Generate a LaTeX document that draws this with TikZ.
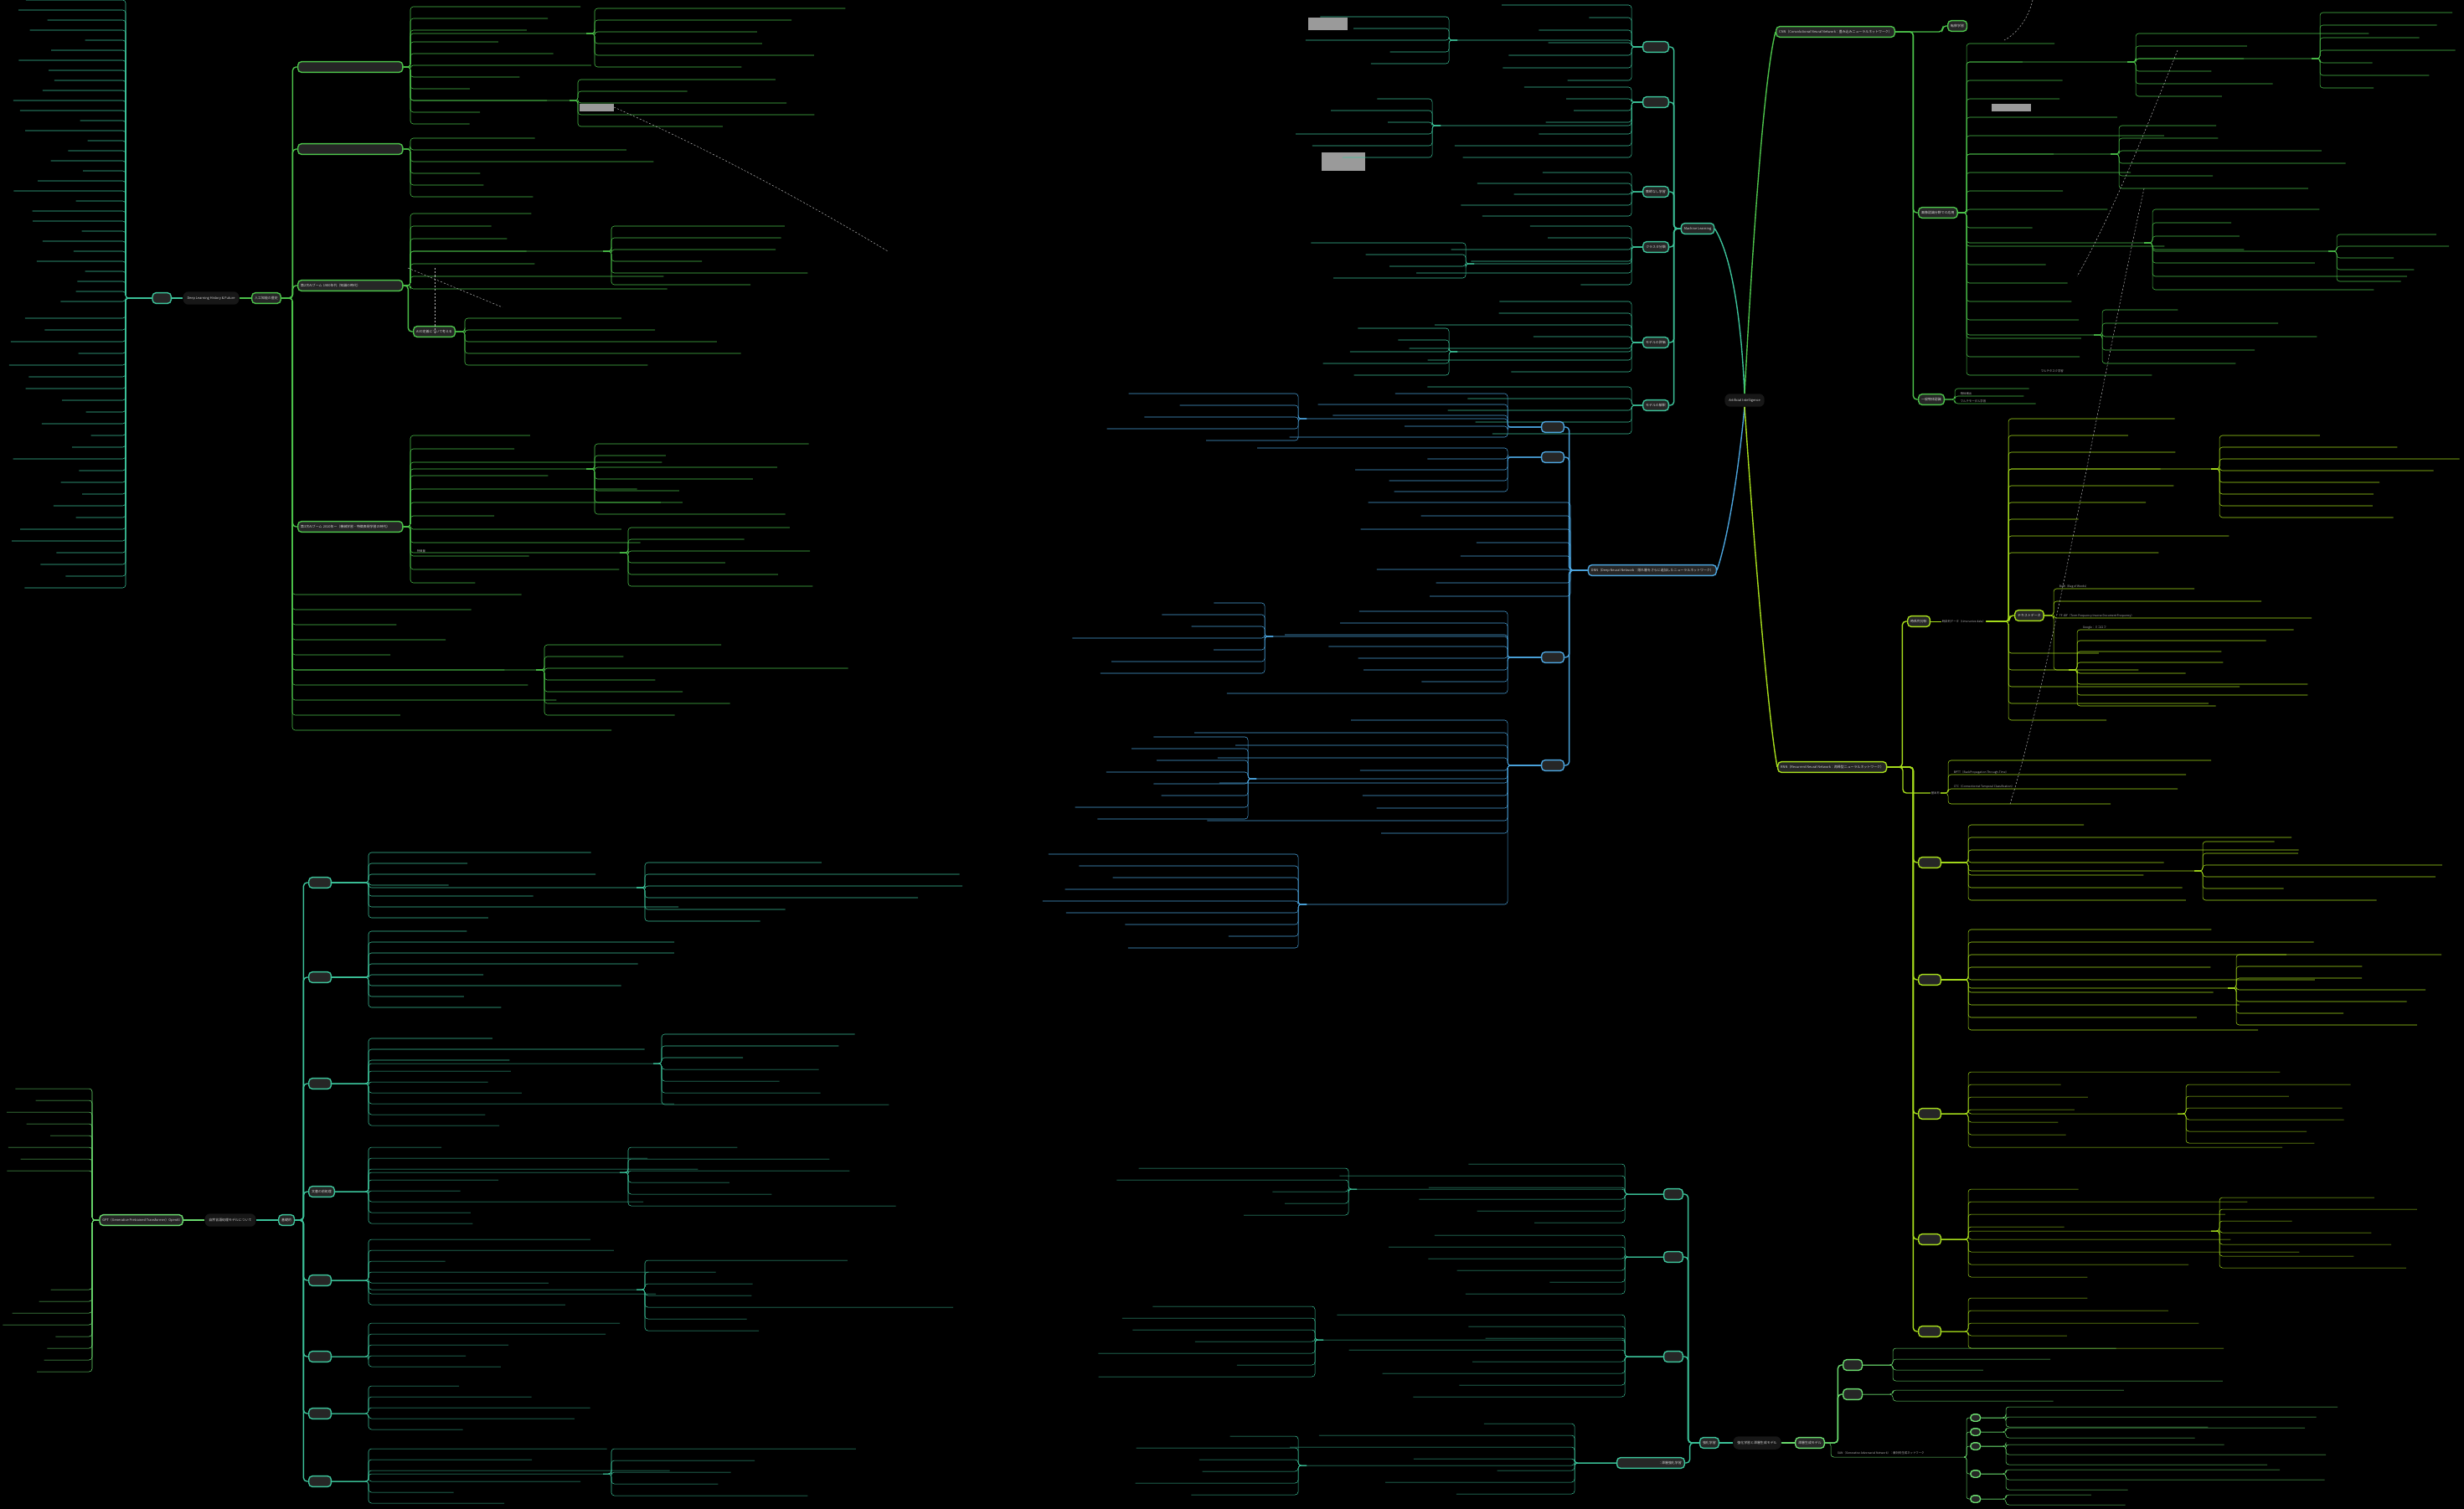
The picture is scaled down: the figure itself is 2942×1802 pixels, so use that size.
\documentclass[tikz,border=0pt]{standalone}
\usepackage{fontspec}
\setmainfont{Noto Sans CJK JP}
\definecolor{cTeal}{HTML}{3CC39A}
\definecolor{cGreen}{HTML}{4CC24A}
\definecolor{cLGreen}{HTML}{6ADB6E}
\definecolor{cBlue}{HTML}{4BA3DC}
\definecolor{cLime}{HTML}{A6DD1C}
\definecolor{cBox}{HTML}{262626}
\definecolor{cRoot}{HTML}{171717}
\definecolor{cText}{HTML}{D8D8D8}
\definecolor{cLeaf}{HTML}{B8B8B8}
\definecolor{cShot}{HTML}{9A9A9A}
\tikzset{
  hub/.style={draw=#1, fill=cBox, rounded corners=6pt, line width=2pt, text=cText,
    font=\fontsize{5.6}{6.6}\selectfont, inner xsep=5pt, inner ysep=3pt, minimum height=18pt},
  rootnode/.style={fill=cRoot, rounded corners=9pt, text=cText,
    font=\fontsize{5.6}{6.6}\selectfont, inner xsep=7pt, minimum height=22pt},
  br/.style={draw=#1, line width=2pt},
  lf/.style={draw=#1, line width=0.75pt},
  ltxt/.style={text=cLeaf, font=\fontsize{4.8}{5.8}\selectfont, inner sep=1pt, anchor=south west},
  xlink/.style={draw=cLeaf, dashed, line width=0.7pt},
}
\newcommand\lvs[9]{%
  \foreach \lvi in {1,...,#5}{%
    \pgfmathsetmacro\lvy{#3+(\lvi-1)*(#4)}%
    \pgfmathsetmacro\lvl{#6*(#8+(#9)*rnd)}%
    \draw[lf=#7,rounded corners=5pt] (#1) -| (#2,\lvy) -- ++(\lvl,0);
  }}
\newcommand\hubL[3]{\draw[br=#1,rounded corners=6pt] (#2) -| ([xshift=-8pt]#3.west) -- (#3.west);}
\newcommand\hubR[3]{\draw[br=#1,rounded corners=6pt] (#2) -| ([xshift=8pt]#3.east) -- (#3.east);}
\newcommand\ext[6]{\coordinate (#4) at (#5,#6);\draw[lf=#1,rounded corners=5pt] (#2) -| (#3,#6) -- (#4);}
\begin{document}
\begin{tikzpicture}[x=0.05cm,y=-0.05cm]
\pgfmathsetseed{31}
\fill[black] (0,0) rectangle (2942,1802);
\useasboundingbox (0,0) rectangle (2942,1802);
\fill[cShot] (1562,21) rectangle (1609,36);
\fill[cShot] (1578,182) rectangle (1630,204);
\fill[cShot] (692,124) rectangle (733,133);
\fill[cShot] (2378,124) rectangle (2425,133);

%================ Artificial Intelligence ================
\node[rootnode] (ai) at (2083,478) {Artificial Intelligence};
\node[hub=cTeal] (ml) at (2027,273) {Machine Learning};
\node[hub=cGreen,anchor=west] (cnn) at (2120,38) {CNN（Convolutional Neural Network：畳み込みニューラルネットワーク）};
\node[hub=cBlue,anchor=east] (dnn) at (2050,681) {DNN（Deep Neural Network：隠れ層をさらに追加したニューラルネットワーク）};
\node[hub=cLime,anchor=west] (rnn) at (2122,916) {RNN（Recurrent Neural Network：再帰型ニューラルネットワーク）};
\draw[br=cTeal] (ai.north) .. controls (2078,360) and (2064,300) .. (ml.east);
\draw[br=cGreen] (ai.north) .. controls (2092,300) and (2106,90) .. (cnn.west);
\draw[br=cBlue] (ai.south) .. controls (2076,560) and (2064,640) .. (dnn.east);
\draw[br=cLime] (ai.south) .. controls (2092,620) and (2110,850) .. (rnn.west);

\foreach \nn/\yy/\tt in {mc1/56/{\phantom{教師あり学習}},mc2/122/{\phantom{教師あり学習}},mc3/229/教師なし学習,mc4/295/クラスタ分類,mc5/409/モデルの評価,mc6/484/モデルの解釈}{
  \node[hub=cTeal,anchor=east] (\nn) at (1993,\yy) {\tt};
  \hubR{cTeal}{ml.west}{\nn}
}
\lvs{mc1.west}{1948}{6}{15}{7}{-1}{cTeal}{50}{180}
\lvs{mc2.west}{1948}{104}{14}{7}{-1}{cTeal}{50}{200}
\lvs{mc3.west}{1948}{206}{13}{5}{-1}{cTeal}{50}{180}
\lvs{mc4.west}{1948}{270}{14}{6}{-1}{cTeal}{60}{220}
\lvs{mc5.west}{1948}{360}{14}{7}{-1}{cTeal}{60}{220}
\lvs{mc6.west}{1948}{462}{14}{5}{-1}{cTeal}{60}{200}
\ext{cTeal}{mc1.west}{1948}{mk1}{1740}{48}
\lvs{mk1}{1730}{20}{14}{5}{-1}{cTeal}{50}{140}
\ext{cTeal}{mc2.west}{1948}{mk2}{1720}{150}
\lvs{mk2}{1710}{118}{14}{6}{-1}{cTeal}{50}{130}
\ext{cTeal}{mc4.west}{1948}{mk3}{1760}{315}
\lvs{mk3}{1750}{290}{14}{4}{-1}{cTeal}{50}{150}
\ext{cTeal}{mc5.west}{1948}{mk4}{1740}{420}
\lvs{mk4}{1730}{392}{14}{5}{-1}{cTeal}{50}{150}

\node[hub=cGreen,anchor=west] (tenni) at (2325,31) {転移学習};
\node[hub=cGreen,anchor=west] (gazo) at (2290,254) {画像認識分野での応用};
\node[hub=cGreen,anchor=west] (ippan) at (2290,477) {一般物体認識};
\hubL{cGreen}{cnn.east}{tenni}
\hubL{cGreen}{cnn.east}{gazo}
\hubL{cGreen}{cnn.east}{ippan}
\lvs{gazo.east}{2348}{52}{22}{19}{1}{cGreen}{60}{180}
\ext{cGreen}{gazo.east}{2348}{gk1}{2540}{74}
\lvs{gk1}{2550}{40}{15}{6}{1}{cGreen}{80}{220}
\ext{cGreen}{gazo.east}{2348}{gk2}{2520}{184}
\lvs{gk2}{2530}{150}{15}{6}{1}{cGreen}{80}{240}
\ext{cGreen}{gazo.east}{2348}{gk3}{2560}{290}
\lvs{gk3}{2570}{250}{16}{7}{1}{cGreen}{80}{260}
\ext{cGreen}{gazo.east}{2348}{gk4}{2500}{400}
\lvs{gk4}{2510}{370}{16}{5}{1}{cGreen}{80}{250}
\ext{cGreen}{gk1}{2550}{gk6}{2760}{70}
\lvs{gk6}{2770}{15}{15}{7}{1}{cGreen}{60}{110}
\ext{cGreen}{gk3}{2570}{gk5}{2780}{300}
\lvs{gk5}{2790}{280}{14}{5}{1}{cGreen}{60}{100}
\lvs{ippan.east}{2334}{464}{9}{3}{1}{cGreen}{70}{40}
\node[ltxt] at (2340,473) {物体検出};
\node[ltxt] at (2340,482) {マルチモーダル学習};
\node[ltxt] at (2436,446) {マルチタスク学習};

\foreach \nn/\yy in {d1/510,d2/546,d3/785,d4/914}{
  \node[hub=cBlue,anchor=east] (\nn) at (1868,\yy) {\phantom{ニューラル}};
  \hubR{cBlue}{dnn.west}{\nn}
}
\lvs{dnn.west}{1875}{600}{16}{8}{-1}{cBlue}{80}{250}
\lvs{d1.west}{1800}{470}{13}{5}{-1}{cBlue}{80}{250}
\lvs{d2.west}{1800}{535}{13}{5}{-1}{cBlue}{80}{250}
\lvs{d3.west}{1800}{730}{14}{8}{-1}{cBlue}{80}{280}
\lvs{d4.west}{1800}{860}{15}{10}{-1}{cBlue}{80}{300}
\ext{cBlue}{d1.west}{1800}{dk1}{1560}{500}
\lvs{dk1}{1550}{470}{14}{5}{-1}{cBlue}{60}{200}
\ext{cBlue}{d3.west}{1800}{dk2}{1520}{760}
\lvs{dk2}{1510}{720}{14}{7}{-1}{cBlue}{60}{180}
\ext{cBlue}{d4.west}{1800}{dk3}{1500}{930}
\lvs{dk3}{1490}{880}{14}{8}{-1}{cBlue}{60}{180}
\ext{cBlue}{d4.west}{1800}{dk4}{1560}{1080}
\lvs{dk4}{1550}{1020}{14}{9}{-1}{cBlue}{80}{230}

\node[hub=cLime,anchor=west] (jikei) at (2277,742) {時系列分析};
\hubL{cLime}{rnn.east}{jikei}
\node[ltxt,anchor=west] (tsd) at (2318,742) {時系列データ（time series data）};
\draw[lf=cLime] (jikei.east) -- (tsd.west);
\node[hub=cLime,anchor=west] (tx) at (2405,735) {テキストデータ};
\hubL{cLime}{tsd.east}{tx}
\lvs{tsd.east}{2398}{500}{20}{9}{1}{cLime}{80}{220}
\lvs{tsd.east}{2398}{780}{20}{5}{1}{cLime}{80}{220}
\draw[lf=cLime,rounded corners=5pt] (tx.east) -| (2452,703) -- (2620,703);
\draw[lf=cLime,rounded corners=5pt] (tx.east) -| (2452,718) -- (2700,718);
\draw[lf=cLime,rounded corners=5pt] (tx.east) -| (2452,738) -- (2760,738);
\node[ltxt] at (2458,703) {BoW（Bag of Words）};
\node[ltxt] at (2458,738) {TF-IDF（Term Frequency Inverse Document Frequency）};
\ext{cLime}{tx.east}{2452}{tk1}{2470}{800}
\lvs{tk1}{2480}{752}{13}{8}{1}{cLime}{80}{200}
\node[ltxt] at (2486,752) {Google：ミコロフ};
\node[ltxt,anchor=west] (kihon) at (2305,947) {基本形};
\draw[br=cLime,rounded corners=6pt] (rnn.east) -| (2272,947) -- (kihon.west);
\draw[lf=cLime,rounded corners=5pt] (kihon.east) -| (2326,908) -- (2640,908);
\draw[lf=cLime,rounded corners=5pt] (kihon.east) -| (2326,925) -- (2610,925);
\draw[lf=cLime,rounded corners=5pt] (kihon.east) -| (2326,942) -- (2600,942);
\draw[lf=cLime,rounded corners=5pt] (kihon.east) -| (2326,960) -- (2520,960);
\node[ltxt] at (2332,925) {BPTT（BackPropagation Through-Time）};
\node[ltxt] at (2332,942) {CTC（Connectionist Temporal Classification）};
\foreach \nn/\yy in {r1/1030,r2/1170,r3/1330,r4/1480,r5/1590}{
  \node[hub=cLime,anchor=west] (\nn) at (2290,\yy) {\phantom{時系列分析}};
  \hubL{cLime}{rnn.east}{\nn}
}
\lvs{r1.east}{2350}{985}{15}{7}{1}{cLime}{100}{300}
\lvs{r2.east}{2350}{1110}{15}{9}{1}{cLime}{100}{320}
\lvs{r3.east}{2350}{1280}{15}{7}{1}{cLime}{100}{300}
\lvs{r4.east}{2350}{1420}{15}{8}{1}{cLime}{100}{320}
\lvs{r5.east}{2350}{1550}{15}{5}{1}{cLime}{100}{250}
\ext{cLime}{r1.east}{2350}{rk1}{2620}{1040}
\lvs{rk1}{2630}{1005}{14}{6}{1}{cLime}{80}{220}
\ext{cLime}{r2.east}{2350}{rk2}{2660}{1180}
\lvs{rk2}{2670}{1140}{14}{7}{1}{cLime}{80}{200}
\ext{cLime}{r3.east}{2350}{rk3}{2600}{1330}
\lvs{rk3}{2610}{1295}{14}{6}{1}{cLime}{80}{250}
\ext{cLime}{r4.east}{2350}{rk4}{2640}{1470}
\lvs{rk4}{2650}{1430}{14}{7}{1}{cLime}{80}{220}
\ext{cLime}{tsd.east}{2398}{rk5}{2640}{560}
\lvs{rk5}{2650}{520}{14}{8}{1}{cLime}{80}{220}

%================ Deep Learning History & Future ================
\node[rootnode] (dlh) at (252,356) {Deep Learning History \& Future};
\node[hub=cTeal,anchor=east] (lbox) at (205,356) {\phantom{ディープ}};
\node[hub=cGreen,anchor=west] (jinko) at (300,356) {人工知能の歴史};
\draw[br=cTeal] (dlh.west) -- (lbox.east);
\draw[br=cGreen] (dlh.east) -- (jinko.west);
\node[hub=cGreen,anchor=west,text width=168pt] (dai1) at (355,80) {\phantom{第1次AIブーム}};
\node[hub=cGreen,anchor=west,text width=168pt] (dx) at (355,178) {\phantom{第1次AIブーム}};
\node[hub=cGreen,anchor=west,text width=168pt] (dai2) at (355,341) {第2次AIブーム 1980年代（知識の時代）};
\node[hub=cGreen,anchor=west,text width=168pt] (dai3) at (355,629) {第3次AIブーム 2010年ー（機械学習・特徴表現学習の時代）};
\foreach \nn in {dai1,dx,dai2,dai3}{\hubL{cGreen}{jinko.east}{\nn}}
\node[hub=cGreen,anchor=west] (aidef) at (493,396) {AIの定義について考える};
\hubL{cGreen}{dai2.east}{aidef}
\lvs{dai1.east}{490}{8}{14}{11}{1}{cGreen}{60}{200}
\ext{cGreen}{dai1.east}{490}{hk1}{700}{40}
\lvs{hk1}{710}{10}{14}{6}{1}{cGreen}{80}{220}
\ext{cGreen}{dai1.east}{490}{hk2}{680}{120}
\lvs{hk2}{690}{95}{14}{5}{1}{cGreen}{80}{250}
\lvs{dx.east}{490}{165}{14}{6}{1}{cGreen}{60}{250}
\lvs{dai2.east}{490}{255}{15}{7}{1}{cGreen}{60}{250}
\ext{cGreen}{dai2.east}{490}{hk3}{720}{300}
\lvs{hk3}{730}{270}{14}{6}{1}{cGreen}{80}{250}
\lvs{aidef.east}{555}{380}{14}{5}{1}{cGreen}{80}{250}
\lvs{dai3.east}{490}{520}{16}{12}{1}{cGreen}{60}{250}
\ext{cGreen}{dai3.east}{490}{hk4}{700}{560}
\lvs{hk4}{710}{530}{14}{7}{1}{cGreen}{80}{280}
\ext{cGreen}{dai3.east}{490}{hk5}{740}{660}
\lvs{hk5}{750}{630}{14}{6}{1}{cGreen}{80}{300}
\lvs{jinko.east}{349}{710}{18}{10}{1}{cGreen}{100}{300}
\ext{cGreen}{jinko.east}{349}{hk6}{640}{800}
\lvs{hk6}{650}{770}{14}{7}{1}{cGreen}{80}{300}
\node[ltxt] at (497,661) {特徴量};
\lvs{lbox.west}{150}{0}{12}{31}{-1}{cTeal}{40}{100}
\lvs{lbox.west}{150}{380}{14}{24}{-1}{cTeal}{40}{100}
\draw[xlink] (733,128) .. controls (850,180) and (960,240) .. (1060,300);
\draw[xlink] (487,320) -- (600,367);
\draw[xlink] (519,320) -- (519,400);

%================ NLP ================
\node[rootnode] (nlp) at (275,1457) {自然言語処理モデルについて};
\node[hub=cLGreen,anchor=east] (gpt) at (219,1457) {GPT（Generative Pretrained Transformer）OpenAI};
\node[hub=cTeal,anchor=west] (kiso) at (332,1457) {基礎的};
\draw[br=cLGreen] (nlp.west) -- (gpt.east);
\draw[br=cTeal] (nlp.east) -- (kiso.west);
\node[hub=cTeal,anchor=west] (zensho) at (368,1423) {文書の前処理};
\hubL{cTeal}{kiso.east}{zensho}
\foreach \nn/\yy in {n1/1054,n2/1167,n3/1294,n5/1529,n6/1620,n7/1688,n8/1769}{
  \node[hub=cTeal,anchor=west] (\nn) at (368,\yy) {\phantom{あいうえお}};
  \hubL{cTeal}{kiso.east}{\nn}
}
\lvs{n1.east}{440}{1018}{13}{7}{1}{cTeal}{80}{300}
\lvs{n2.east}{440}{1112}{13}{8}{1}{cTeal}{80}{300}
\lvs{n3.east}{440}{1240}{13}{9}{1}{cTeal}{80}{320}
\lvs{zensho.east}{440}{1370}{13}{8}{1}{cTeal}{80}{320}
\lvs{n5.east}{440}{1480}{13}{7}{1}{cTeal}{80}{300}
\lvs{n6.east}{440}{1580}{13}{5}{1}{cTeal}{80}{300}
\lvs{n7.east}{440}{1655}{13}{5}{1}{cTeal}{80}{300}
\lvs{n8.east}{440}{1730}{13}{6}{1}{cTeal}{80}{300}
\ext{cTeal}{n1.east}{440}{nk1}{760}{1060}
\lvs{nk1}{770}{1030}{14}{6}{1}{cTeal}{80}{300}
\ext{cTeal}{n3.east}{440}{nk2}{780}{1270}
\lvs{nk2}{790}{1235}{14}{7}{1}{cTeal}{80}{300}
\ext{cTeal}{zensho.east}{440}{nk3}{740}{1400}
\lvs{nk3}{750}{1370}{14}{6}{1}{cTeal}{80}{280}
\ext{cTeal}{n5.east}{440}{nk4}{760}{1540}
\lvs{nk4}{770}{1505}{14}{7}{1}{cTeal}{80}{300}
\ext{cTeal}{n8.east}{440}{nk5}{720}{1760}
\lvs{nk5}{730}{1730}{14}{5}{1}{cTeal}{80}{300}
\lvs{gpt.west}{110}{1300}{14}{8}{-1}{cLGreen}{40}{70}
\lvs{gpt.west}{110}{1540}{14}{8}{-1}{cLGreen}{40}{70}

%================ RL & generative ================
\node[rootnode] (rlg) at (2098,1723) {強化学習と深層生成モデル};
\node[hub=cTeal,anchor=east] (kyoka) at (2053,1723) {強化学習};
\node[hub=cLGreen,anchor=west] (shinso) at (2143,1723) {深層生成モデル};
\draw[br=cTeal] (rlg.west) -- (kyoka.east);
\draw[br=cLGreen] (rlg.east) -- (shinso.west);
\node[hub=cTeal,anchor=east] (drl) at (2012,1747) {\phantom{Deep Reinforced learning}：深層強化学習};
\hubR{cTeal}{kyoka.west}{drl}
\foreach \nn/\yy in {k1/1426,k2/1501,k3/1620}{
  \node[hub=cTeal,anchor=east] (\nn) at (2010,\yy) {\phantom{強化学習}};
  \hubR{cTeal}{kyoka.west}{\nn}
}
\lvs{k1.west}{1940}{1390}{14}{6}{-1}{cTeal}{80}{300}
\lvs{k2.west}{1940}{1475}{14}{6}{-1}{cTeal}{80}{300}
\lvs{k3.west}{1940}{1570}{14}{8}{-1}{cTeal}{80}{320}
\lvs{drl.west}{1880}{1700}{14}{7}{-1}{cTeal}{80}{300}
\ext{cTeal}{k1.west}{1940}{kk1}{1620}{1420}
\lvs{kk1}{1610}{1395}{14}{5}{-1}{cTeal}{60}{250}
\ext{cTeal}{k3.west}{1940}{kk2}{1580}{1600}
\lvs{kk2}{1570}{1560}{14}{7}{-1}{cTeal}{60}{230}
\ext{cTeal}{drl.west}{1880}{kk3}{1560}{1750}
\lvs{kk3}{1550}{1715}{14}{6}{-1}{cTeal}{60}{230}
\node[ltxt,anchor=west] (gan) at (2193,1735) {GAN（Generative Adversarial Network）：敵対的生成ネットワーク};
\draw[lf=cLGreen,rounded corners=5pt] (shinso.east) -| (2186,1740) -- (2345,1740);
\coordinate (gj) at (2345,1740);
\foreach \nn/\yy in {g1/1693,g2/1710,g3/1727,g4/1760,g5/1790}{
  \node[hub=cLGreen,anchor=west,minimum height=12pt,inner xsep=3pt] (\nn) at (2352,\yy) {\phantom{あい}};
  \draw[lf=cLGreen,rounded corners=4pt] (gj) -| (2348,\yy) -- (\nn.west);
}
\lvs{g1.east}{2395}{1680}{12}{3}{1}{cLGreen}{100}{300}
\lvs{g2.east}{2395}{1705}{12}{2}{1}{cLGreen}{100}{300}
\lvs{g3.east}{2395}{1725}{12}{3}{1}{cLGreen}{100}{300}
\lvs{g4.east}{2395}{1755}{12}{3}{1}{cLGreen}{100}{300}
\lvs{g5.east}{2395}{1785}{12}{2}{1}{cLGreen}{100}{300}
\foreach \nn/\yy in {s1/1630,s2/1665}{
  \node[hub=cLGreen,anchor=west] (\nn) at (2200,\yy) {\phantom{深層生成}};
  \hubL{cLGreen}{shinso.east}{\nn}
}
\lvs{s1.east}{2260}{1610}{13}{4}{1}{cLGreen}{100}{300}
\lvs{s2.east}{2260}{1660}{13}{2}{1}{cLGreen}{100}{300}
\draw[xlink] (2427,0) .. controls (2420,30) and (2400,45) .. (2393,48);
\draw[xlink] (2560,225) .. controls (2500,500) and (2450,800) .. (2400,960);
\draw[xlink] (2600,60) .. controls (2560,160) and (2520,260) .. (2480,330);
\end{tikzpicture}
\end{document}
